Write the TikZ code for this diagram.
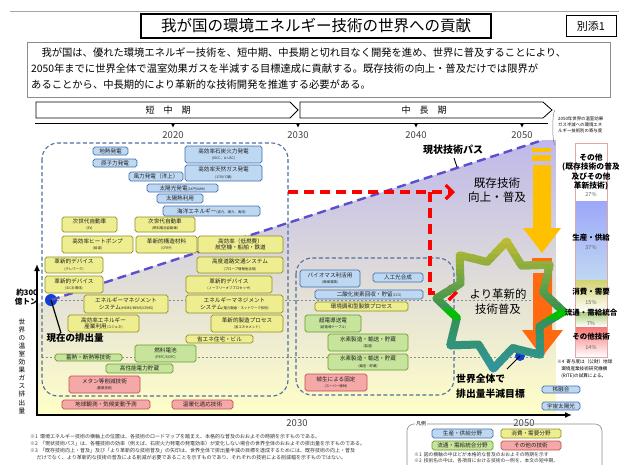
\documentclass[tikz,border=0pt]{standalone}
\usepackage{fontspec}
\setmainfont{Noto Sans CJK JP}
\usetikzlibrary{arrows.meta}
\definecolor{bbord}{HTML}{3F6FB0}\definecolor{btint}{HTML}{BFD8F2}
\definecolor{ybord}{HTML}{8E8E24}\definecolor{ytint}{HTML}{EEEE90}
\definecolor{gbord}{HTML}{6A9A2E}\definecolor{gtint}{HTML}{C6E49C}
\definecolor{rbord}{HTML}{C0504D}\definecolor{rtint}{HTML}{F5A8A8}
\definecolor{lav}{HTML}{BFB8EA}\definecolor{paley}{HTML}{FFFFC8}
\definecolor{pline}{HTML}{5A4FCF}\definecolor{dotblue}{HTML}{1040D0}
\definecolor{gold}{HTML}{FFC000}\definecolor{orng}{HTML}{FF6A10}
\definecolor{dashbox}{HTML}{4F6F9F}\definecolor{txt}{HTML}{202020}
\newcommand\sm[1]{{\fontsize{3.4}{4}\selectfont #1}}
\newcommand\tbox[7]{%
  \pgfmathsetmacro\bxw{#5-#3}\pgfmathsetmacro\bxh{#6-#4}%
  \pgfmathsetmacro\bxc{(#3+#5)/2}\pgfmathsetmacro\byc{(#4+#6)/2}%
  \node[#1, minimum width=\bxw pt, minimum height=\bxh pt] (#2) at (\bxc,\byc) {#7};}
\tikzset{
  tb/.style={rounded corners=1.8pt, line width=0.7pt, inner sep=0pt, align=center,
    text=txt, font=\fontsize{5.6}{6.6}\selectfont},
  bb/.style={tb, draw=bbord, top color=btint, middle color=white, bottom color=btint},
  yb/.style={tb, draw=ybord, top color=ytint, middle color=white, bottom color=ytint},
  gb/.style={tb, draw=gbord, top color=gtint, middle color=white, bottom color=gtint},
  rb/.style={tb, draw=rbord, top color=rtint, middle color=white, bottom color=rtint},
  dbox/.style={draw=dashbox, line width=1.1pt, dash pattern=on 4pt off 2.5pt, rounded corners=16pt},
  reddash/.style={red, line width=3.2pt, dash pattern=on 10pt off 6pt},
  yr/.style={font=\fontsize{9.5}{10}\selectfont, text=black!75},
  foot/.style={anchor=west, inner sep=0pt, font=\fontsize{5}{6}\selectfont, text=black!80},
}
\begin{document}
\begin{tikzpicture}[x=1pt,y=-1pt]
\useasboundingbox (0,0) rectangle (619,464);
\fill[white] (0,0) rectangle (619,464);
% header
\draw[black!35, line width=0.6pt] (10,11) -- (619,11);
\node[draw, line width=1.6pt, fill=white, minimum width=350pt, minimum height=24pt, inner sep=0pt,
  font=\fontsize{15.5}{16}\selectfont] (title) at (316,26) {我が国の環境エネルギー技術の世界への貢献};
\node[draw, line width=0.6pt, fill=white, minimum width=50pt, minimum height=21pt, inner sep=0pt,
  font=\fontsize{11}{12}\selectfont] (annex) at (591,26) {別添1};
\node[draw=black!45, line width=0.6pt, minimum width=583pt, minimum height=55pt] (intro) at (318.5,69.5) {};
\node[anchor=west, inner sep=0pt, font=\fontsize{10.3}{11}\selectfont] (l1) at (31,53) {　我が国は、優れた環境エネルギー技術を、短中期、中長期と切れ目なく開発を進め、世界に普及することにより、};
\node[anchor=west, inner sep=0pt, font=\fontsize{10.3}{11}\selectfont] (l2) at (31,69) {2050年までに世界全体で温室効果ガスを半減する目標達成に貢献する。既存技術の向上・普及だけでは限界が};
\node[anchor=west, inner sep=0pt, font=\fontsize{10.3}{11}\selectfont] (l3) at (31,85) {あることから、中長期的により革新的な技術開発を推進する必要がある。};
% timeline
\draw[line width=0.8pt, fill=white] (36,102) -- (290,102) -- (298,110) -- (290,118) -- (36,118) -- cycle;
\node[font=\fontsize{9}{9}\selectfont] (st) at (168,110) {短　中　期};
\draw[line width=0.8pt, fill=white] (300,102) -- (543,102) -- (552,110) -- (543,118) -- (300,118) -- cycle;
\node[font=\fontsize{9}{9}\selectfont] (mt) at (424,110) {中　長　期};
\draw[line width=0.8pt] (35,123) -- (548,123);
\foreach \tx/\yr in {173/2020,298/2030,416/2040,522/2050}{
  \fill (\tx-2.2,123) -- (\tx+2.2,123) -- (\tx,127.5) -- cycle;
  \node[yr] at (\tx,135) {\yr};}
% chart background
\shade[top color=lav, middle color=white!92!lav, bottom color=paley]
  (37,304) -- (543,140) -- (556,140) -- (556,414) -- (37,414) -- cycle;
\draw[black!45, line width=0.8pt, dash pattern=on 2pt off 2pt] (57,300) -- (545,300);
\draw[black!45, line width=0.8pt, dash pattern=on 2pt off 2pt] (42,357) -- (545,357);
% dashed period boxes
\draw[dbox] (42,143) rectangle (288,396);
\draw[dbox] (296,258) rectangle (454,395);
% current path
\coordinate (pend) at (543,140);
\fill[dotblue] (51,300) circle (6pt) coordinate (now);
\draw[pline, line width=2.4pt, dash pattern=on 9pt off 5pt] (now) -- (pend);
\node[font=\bfseries\fontsize{10}{10}\selectfont] (pathlbl) at (453,150) {現状技術パス};
\draw[line width=0.8pt] (454,158) -- (457,167);
% red dashed arrows
\coordinate (rs) at (288,192);
\coordinate (rc) at (430,192);
\coordinate (rd) at (430,293);
\draw[reddash, -{Straight Barb[length=7pt,width=14pt]}] (rs) -- (455,192);
\draw[reddash, -{Straight Barb[length=7pt,width=14pt]}] (rc) -- (rd) -- (458,293);
% boxes short-mid term
\tbox{bb}{b1}{93}{147}{128}{155}{地熱発電}
\tbox{bb}{b2}{93}{159}{137}{167}{原子力発電}
\tbox{bb}{b3}{185}{146}{262}{163}{高効率石炭火力発電\\\sm{(IGCC、A-USC)}}
\tbox{bb}{b4}{185}{165}{262}{181}{高効率天然ガス発電\\\sm{(1700℃級)}}
\tbox{bb}{b5}{129}{172}{183}{181}{風力発電（洋上）}
\tbox{bb}{b6}{147}{184}{218}{192}{太陽光発電\sm{(14円/kWh)}}
\tbox{bb}{b7}{157}{194}{203}{203}{太陽熱利用}
\tbox{bb}{b8}{163}{206}{260}{216}{海洋エネルギー\sm{(波力、潮力、海流)}}
\tbox{yb}{y1}{62}{217}{117}{232}{次世代自動車\\\sm{(EV)}}
\tbox{yb}{y2}{135}{217}{195}{232}{次世代自動車\\\sm{(燃料電池自動車)}}
\tbox{yb}{y3}{62}{236}{133}{253}{高効率ヒートポンプ\\\sm{(給湯)}}
\tbox{yb}{y4}{136}{236}{197}{253}{革新的構造材料\\\sm{(CFRP)}}
\tbox{yb}{y5}{198}{236}{283}{253}{高効率（低燃費）\\航空機・船舶・鉄道}
\tbox{yb}{y6}{45}{257}{103}{273}{革新的デバイス\\\sm{(テレワーク)}}
\tbox{yb}{y7}{197}{257}{283}{273}{高度道路交通システム\\\sm{(プローブ情報他活用)}}
\tbox{yb}{y8}{45}{276}{103}{293}{革新的デバイス\\\sm{(SiC半導体)}}
\tbox{yb}{y9}{186}{276}{272}{293}{革新的デバイス\\\sm{(ノーマリーオフプロセッサ)}}
\tbox{yb}{y10}{84}{295}{168}{313}{エネルギーマネジメント\\システム\sm{(HEMS/BEMS/CEMS)}}
\tbox{yb}{y11}{186}{295}{283}{313}{エネルギーマネジメント\\システム\sm{(電力融通・ネットワーク技術)}}
\tbox{yb}{y12}{68}{315}{139}{332}{高効率エネルギー\\産業利用\sm{(コジェネ)}}
\tbox{yb}{y13}{211}{315}{283}{332}{革新的製造プロセス\\\sm{(省エネセメント)}}
\tbox{yb}{y14}{186}{335}{253}{343}{省エネ住宅・ビル}
\tbox{gb}{g1}{135}{345}{196}{362}{燃料電池\\\sm{(PEFC/SOFC)}}
\tbox{gb}{g2}{55}{354}{122}{361}{蓄熱・断熱等技術}
\tbox{gb}{g3}{106}{364}{173}{373}{高性能電力貯蔵}
\tbox{rb}{r1}{69}{376}{140}{393}{メタン等削減技術\\\sm{(農業技術)}}
\tbox{rb}{r2}{62}{400}{150}{409}{地球観測・気候変動予測}
\tbox{rb}{r3}{172}{400}{233}{409}{温暖化適応技術}
% boxes mid-long term
\tbox{bb}{b9}{300}{270}{360}{287}{バイオマス利活用\\\sm{(微細藻類)}}
\tbox{bb}{b10}{373}{273}{423}{282}{人工光合成}
\tbox{bb}{b11}{315}{290}{423}{299}{二酸化炭素回収・貯留\sm{(CCS)}}
\tbox{yb}{y15}{315}{302}{408}{311}{環境調和型製鉄プロセス}
\tbox{gb}{g4}{305}{315}{361}{332}{超電導送電\\\sm{(超電導ケーブル)}}
\tbox{gb}{g5}{328}{334}{408}{351}{水素製造・輸送・貯蔵\\\sm{(製造)}}
\tbox{gb}{g6}{328}{354}{408}{370}{水素製造・輸送・貯蔵\\\sm{(輸送・貯蔵)}}
\tbox{rb}{r4}{305}{374}{367}{391}{植生による固定\\\sm{(スーパー植林)}}
\tbox{bb}{b12}{542}{386}{580}{393}{核融合}
\tbox{bb}{b13}{542}{402}{580}{410}{宇宙太陽光}
% current emission
\node[font=\bfseries\fontsize{9.5}{10}\selectfont, inner sep=0pt] (nowlbl) at (75,338) {現在の排出量};
\draw[line width=1.2pt] (now) -- (61,333);
% axes
\draw[line width=2.2pt, -{Latex[length=7pt,width=6pt]}] (37,415) -- (37,264);
\draw[line width=2.2pt, -{Latex[length=7pt,width=6pt]}] (36,415) -- (572,415);
\node[anchor=east, inner sep=0pt, align=right, font=\bfseries\fontsize{7.6}{8.6}\selectfont] (v300) at (38,297) {約300\\億トン};
\node[inner sep=0pt, align=center, font=\fontsize{6.6}{8.1}\selectfont] (yax) at (22,366) {世\\界\\の\\温\\室\\効\\果\\ガ\\ス\\排\\出\\量};
\node[yr] at (297,423) {2030};
\node[yr] at (524,423) {2050};
% big arrows
\fill[gold] (532,148) rectangle (551,152);
\fill[gold] (532,155) rectangle (551,161);
\fill[gold] (533,165) -- (551,165) -- (551,228) -- (561,228) -- (542,253) -- (523,228) -- (533,228) -- cycle;
\fill[orng] (532,258) rectangle (552,262);
\fill[orng] (532,265) rectangle (552,269);
\fill[orng] (533,273) -- (552,273) -- (552,330) -- (563,330) -- (542,357) -- (522,330) -- (533,330) -- cycle;
% texts in middle
\node[align=center, font=\fontsize{11.6}{14}\selectfont] (exist) at (497,190) {既存技術\\向上・普及};
\node[align=center, font=\fontsize{11.4}{15}\selectfont] (innov) at (498,302) {より革新的\\技術普及};
\fill[dotblue] (520,356) circle (5pt) coordinate (goal);
\draw[line width=0.9pt] (goal) -- (507,369);
\node[anchor=west, align=left, inner sep=0pt, font=\bfseries\fontsize{9.8}{15}\selectfont] (goallbl) at (456,386) {世界全体で\\排出量半減目標};
% star
\def\starpath{plot[samples at={0,...,15}] ({500+(mod(\x,2)==0 ? 64 : 45)*cos(84+\x*22.5)}, {305-(mod(\x,2)==0 ? 64 : 45)*sin(84+\x*22.5)}) -- cycle}
\foreach \i in {0,...,31}{
  \pgfmathsetmacro\ya{234+\i*5}\pgfmathsetmacro\yb{\ya+5.2}
  \pgfmathtruncatemacro\pa{\i<16 ? 100-\i*100/15 : 0}
  \pgfmathtruncatemacro\pb{\i<16 ? 0 : (\i-16)*100/15}
  \ifnum\i<16
    \colorlet{sc}{yellow!\pa!green!75!black}
  \else
    \colorlet{sc}{cyan!\pb!green!75!black}
  \fi
  \begin{scope}
    \clip (420,\ya) rectangle (590,\yb);
    \draw[sc, line width=8pt, line join=round] \starpath;
  \end{scope}
}
% contribution bar
\draw[black!50, line width=0.5pt] (555,110) .. controls (552,112) and (552,143) .. (555,145);
\node[anchor=north west, inner sep=0pt, align=left, font=\fontsize{4.4}{6}\selectfont] (brk) at (558,117) {2050年世界の温室効果\\ガス半減への環境エネ\\ルギー技術別の寄与度};
\fill[white] (575,143) rectangle (607,201);
\shade[top color=btint!60!blue!70!white, middle color=white!80!btint, bottom color=btint] (575,201) rectangle (607,280);
\shade[top color=ytint!70!ybord, bottom color=white] (575,280) rectangle (607,312);
\shade[top color=gtint!70!gbord, bottom color=white] (575,312) rectangle (607,327);
\shade[top color=rtint!70!red, bottom color=white] (575,327) rectangle (607,357);
\draw[rbord!50, line width=0.5pt] (575,143) rectangle (607,357);
\node[align=center, font=\bfseries\fontsize{7.8}{9.5}\selectfont] (c1) at (591,172) {その他\\(既存技術の普及\\及びその他\\革新技術)};
\node[font=\fontsize{5.5}{6}\selectfont, text=black!60] at (591,194) {27\%};
\node[font=\bfseries\fontsize{7.5}{8}\selectfont] (c2) at (591,238) {生産・供給};
\node[font=\fontsize{5.5}{6}\selectfont, text=black!60] at (591,247) {37\%};
\node[font=\bfseries\fontsize{7.5}{8}\selectfont] (c3) at (591,292) {消費・需要};
\node[font=\fontsize{5.5}{6}\selectfont, text=black!60] at (591,302) {15\%};
\node[font=\bfseries\fontsize{7.5}{8}\selectfont] (c4) at (591,313) {流通・需給統合};
\node[font=\fontsize{5.5}{6}\selectfont, text=black!60] at (591,323) {7\%};
\node[font=\bfseries\fontsize{7.5}{8}\selectfont] (c5) at (591,337) {その他技術};
\node[font=\fontsize{5.5}{6}\selectfont, text=black!60] at (591,347) {14\%};
\node[anchor=north west, inner sep=0pt, align=left, font=\fontsize{4.6}{7}\selectfont] (n4) at (557,359) {※4\ \ 寄与度は（公財）地球\\\ \ \ \ 環境産業技術研究機構\\\ \ \ \ (RITE)の試算による。};
% footnotes
\node[foot] (f1) at (30,437) {※1\ \ 環境エネルギー技術の横軸上の位置は、各技術のロードマップを踏まえ、本格的な普及のおおよその時期を示すものである。};
\node[foot] (f2) at (30,444) {※2\ \ 「現状技術パス」は、各種技術の効率（例えば、石炭火力発電の発電効率）が変化しない場合の世界全体のおおよその排出量を示すものである。};
\node[foot] (f3) at (30,451) {※3\ \ 「既存技術向上・普及」及び「より革新的な技術普及」の矢印は、世界全体で排出量半減の目標を達成するためには、既存技術の向上・普及};
\node[foot] (f4) at (30,458) {\ \ \ \ \ \ だけでなく、より革新的な技術の普及による削減が必要であることを示すものであり、それぞれの技術による削減幅を示すものではない。};
% legend
\draw[black!45, line width=0.6pt, rounded corners=7pt] (407,470) -- (407,424) -- (602,424) -- (602,470);
\node[fill=white, inner sep=1pt, font=\fontsize{5}{6}\selectfont] (lg) at (421,424) {凡例};
\tbox{bb}{l1}{432}{429}{493}{438}{生産・供給分野}
\tbox{yb}{l2}{501}{429}{561}{438}{消費・需要分野}
\tbox{gb}{l3}{432}{441}{493}{450}{流通・需給統合分野}
\tbox{rb}{l4}{501}{441}{561}{450}{その他の技術}
\node[foot, font=\fontsize{4.8}{6}\selectfont] (lf1) at (414,455) {※1\ \ 図の横軸の中ほどが本格的な普及のおおよその時期を示す};
\node[foot, font=\fontsize{4.8}{6}\selectfont] (lf2) at (414,461) {※2\ \ 技術名の中は、各項目における技術の一例を、本文の短中期、};
\end{tikzpicture}
\end{document}
